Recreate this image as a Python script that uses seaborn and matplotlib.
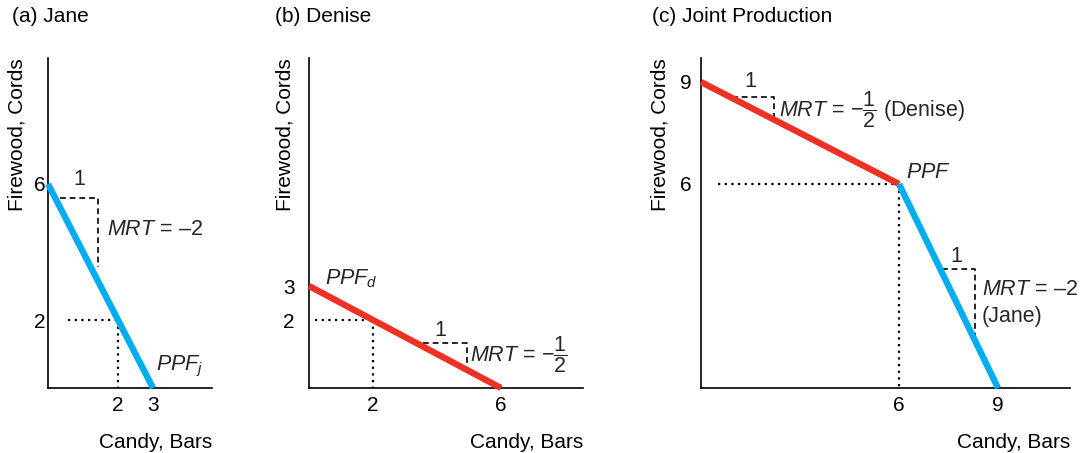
import numpy as np
import seaborn as sns
import matplotlib.pyplot as plt

# PPF end points (candy bars, firewood cords)
jane_candy = [0, 3]
jane_wood = [6, 0]
denise_candy = [0, 6]
denise_wood = [3, 0]
joint_candy_denise = [0, 6]
joint_wood_denise = [9, 6]
joint_candy_jane = [6, 9]
joint_wood_jane = [6, 0]

# tick labels shown on each panel
jane_xticks = [2, 3]
jane_yticks = [2, 6]
denise_xticks = [2, 6]
denise_yticks = [2, 3]
joint_xticks = [6, 9]
joint_yticks = [6, 9]

# guide points marked with dotted lines
jane_point = (2, 2)
denise_point = (2, 2)
joint_point = (6, 6)

BLUE = '#00aeef'
RED = '#ee3124'

sns.set_theme(style='white')
plt.rcParams['font.family'] = ['Liberation Sans', 'DejaVu Sans']
plt.rcParams['mathtext.fontset'] = 'custom'
plt.rcParams['mathtext.rm'] = 'Liberation Sans'
plt.rcParams['mathtext.it'] = 'Liberation Sans:italic'
plt.rcParams['mathtext.bf'] = 'Liberation Sans:bold'


def setup_axes(ax, xmax, ymax, xticks, yticks, ypad, title, title_x, ylab_x):
    ax.set_xlim(0, xmax)
    ax.set_ylim(0, ymax)
    for s in ['top', 'right']:
        ax.spines[s].set_visible(False)
    for s in ['left', 'bottom']:
        ax.spines[s].set_color('black')
        ax.spines[s].set_linewidth(1.2)
    ax.set_xticks(xticks)
    ax.set_yticks(yticks)
    ax.tick_params(axis='both', length=0, labelsize=15, colors='black')
    ax.tick_params(axis='x', pad=6)
    ax.tick_params(axis='y', pad=ypad)
    ax.set_xlabel('Candy, Bars', loc='right', fontsize=15, color='black')
    ax.xaxis.label.set(va='center')
    ax.xaxis.set_label_coords(1.0, -0.165)
    ax.set_ylabel('Firewood, Cords', loc='top', fontsize=15, color='black')
    ax.yaxis.label.set(rotation_mode='default', ha='center', va='top')
    ax.yaxis.set_label_coords(ylab_x, 1.0)
    ax.set_title(title, loc='left', x=title_x, y=1.125, pad=0, va='center',
                 fontsize=15, color='black')


def ppf(ax, xs, ys, color):
    sns.lineplot(x=xs, y=ys, ax=ax, color=color, linewidth=4.6, sort=False,
                 solid_capstyle='butt', clip_on=False, zorder=3)


def guides(ax, point, x_start):
    x, y = point
    ax.plot([x_start, x], [y, y], color='black', lw=1.6, ls=(0, (1, 2)))
    ax.plot([x, x], [y, 0], color='black', lw=1.6, ls=(0, (1, 2)))


def slope(ax, x0, x1, y0, y1):
    ax.plot([x0, x1, x1], [y0, y0, y1], color='black', lw=1.2,
            ls=(0, (3.5, 2.3)), zorder=2)


fig = plt.figure(figsize=(10.8, 4.53), dpi=100)
W, H = 1080, 453
ax_a = fig.add_axes([48 / W, 65 / H, 164 / W, 330 / H])
ax_b = fig.add_axes([309 / W, 65 / H, 274 / W, 330 / H])
ax_c = fig.add_axes([701 / W, 65 / H, 369 / W, 330 / H])

ymax = 330 / 34
fs = 15.5

# (a) Jane
setup_axes(ax_a, 164 / 35, ymax, jane_xticks, jane_yticks, 2,
           '(a) Jane', -0.22, -0.19)
guides(ax_a, jane_point, 0.57)
slope(ax_a, 0.35, 1.43, 5.6, 3.56)
ppf(ax_a, jane_candy, jane_wood, BLUE)
ax_a.text(0.89, 6.12, '1', fontsize=fs, ha='center', va='center')
ax_a.text(1.69, 4.65, '$MRT$ = \u20132', fontsize=fs, ha='left', va='center')
ax_a.text(3.1, 0.62, '$PPF_j$', fontsize=fs, ha='left', va='center')

# (b) Denise
setup_axes(ax_b, 274 / 32, ymax, denise_xticks, denise_yticks, 10.5,
           '(b) Denise', -0.124, -0.088)
guides(ax_b, denise_point, 0.19)
slope(ax_b, 3.55, 4.95, 1.32, 0.68)
ppf(ax_b, denise_candy, denise_wood, RED)
ax_b.text(4.1, 1.68, '1', fontsize=fs, ha='center', va='center')
ax_b.text(5.02, 0.97, r'$MRT$ = $-\dfrac{1}{2}$', fontsize=fs, ha='left', va='center')
ax_b.text(0.5, 3.2, '$PPF_d$', fontsize=fs, ha='left', va='center')

# (c) Joint Production
setup_axes(ax_c, 369 / 33, ymax, joint_xticks, joint_yticks, 7,
           '(c) Joint Production', -0.133, -0.111)
guides(ax_c, joint_point, 0.5)
slope(ax_c, 0.93, 2.2, 8.56, 7.97)
slope(ax_c, 7.3, 8.3, 3.5, 1.47)
ppf(ax_c, joint_candy_denise, joint_wood_denise, RED)
ppf(ax_c, joint_candy_jane, joint_wood_jane, BLUE)
ax_c.text(1.5, 9.0, '1', fontsize=fs, ha='center', va='center')
ax_c.text(2.35, 8.2, r'$MRT$ = $-\dfrac{1}{2}$ (Denise)', fontsize=fs,
          ha='left', va='center')
ax_c.text(6.2, 6.35, '$PPF$', fontsize=fs, ha='left', va='center')
ax_c.text(7.75, 3.88, '1', fontsize=fs, ha='center', va='center')
ax_c.text(8.5, 2.9, '$MRT$ = \u20132', fontsize=fs, ha='left', va='center')
ax_c.text(8.5, 2.1, '(Jane)', fontsize=fs, ha='left', va='center')

fig.savefig('out.png', dpi=100, facecolor='white')
